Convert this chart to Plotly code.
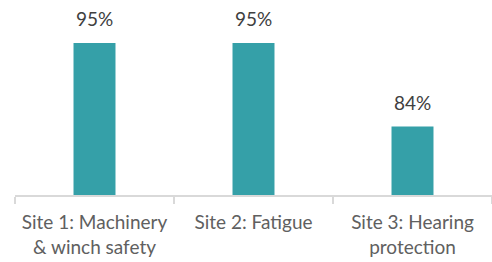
import plotly.graph_objects as go

categories = ["Site 1: Machinery<br>& winch safety", "Site 2: Fatigue", "Site 3: Hearing<br>protection"]
values = [95, 95, 84]
labels = ["95%", "95%", "84%"]

fig = go.Figure(go.Bar(
    x=categories, y=values,
    marker=dict(color="#35a0a8", line=dict(width=0)),
    cliponaxis=False, width=0.264,
))
for c, v, t in zip(categories, values, labels):
    fig.add_annotation(x=c, y=v, text=t, showarrow=False, yanchor="bottom", yshift=11,
                       font=dict(color="#404040", size=19, family="Lato"))
fig.update_layout(
    width=492, height=262,
    margin=dict(l=15, r=0, t=5, b=67, autoexpand=False),
    plot_bgcolor="white", paper_bgcolor="white",
    showlegend=False,
    font=dict(family="Lato", color="#595959", size=19),
)
fig.update_yaxes(range=[75, 100], visible=False)
fig.update_xaxes(
    automargin=False,
    showline=True, linecolor="#d9d9d9", linewidth=2,
    ticks="outside", tickson="boundaries", ticklen=7, tickcolor="#d9d9d9", tickwidth=2,
    tickfont=dict(size=19, color="#606060"),
    ticklabelstandoff=9,
    showgrid=False,
)
fig.write_html("out.html", config={"displayModeBar": False},
               post_script="document.body.style.margin='0';document.body.style.overflow='hidden';")
